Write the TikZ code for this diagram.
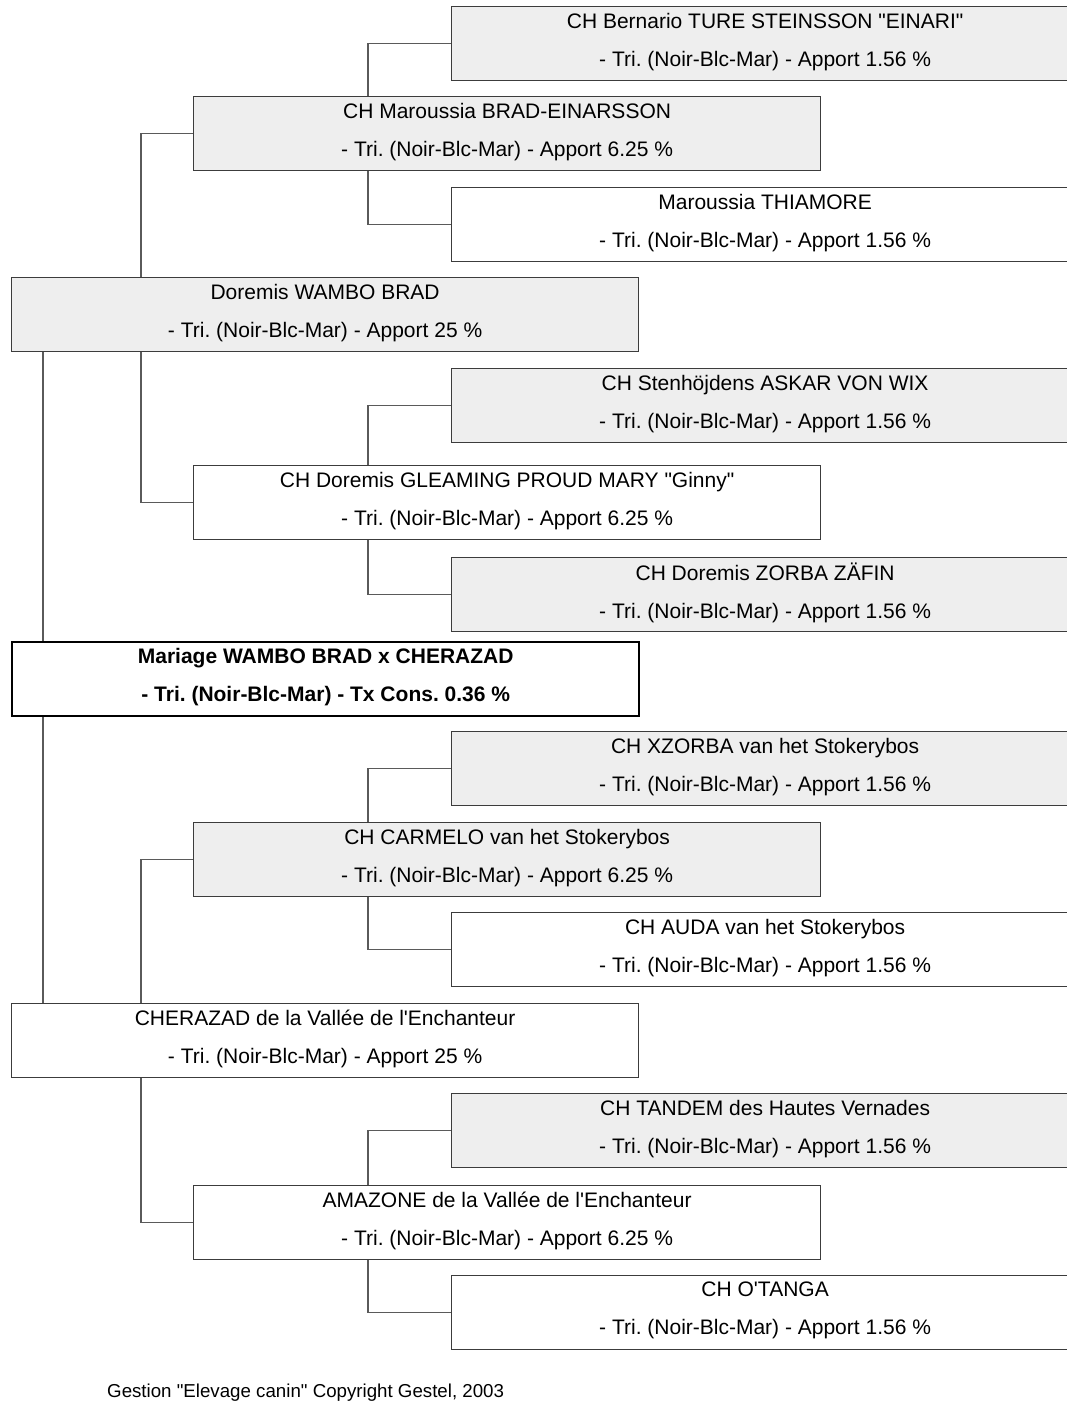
\documentclass[tikz,border=0pt]{standalone}
\usepackage{fontspec}
\setmainfont{Liberation Sans}[Ligatures=TeXOff]
\frenchspacing

\tikzset{
    ped/.style={draw={rgb, 255:red, 60; green, 60; blue, 60 }, line width=1.2pt, anchor=north west, minimum width=627, minimum height=74, inner sep=0pt, align=center, font=\fontsize{21}{38}\selectfont, execute at begin node={\rule{0pt}{18pt}}, execute at end node={\rule[-8pt]{0pt}{8pt}}},
    male/.style={ped, fill={rgb, 255:red, 238; green, 238; blue, 238 }},
    female/.style={ped, fill=white},
    link/.style={draw={rgb, 255:red, 90; green, 90; blue, 90 }, line width=1.2pt},
}

\begin{document}
\begin{tikzpicture}[x=1pt,y=1pt,yscale=-1,xscale=1]
    \useasboundingbox (0,0) rectangle (1067,1402);

    % Boxes: sire side
    \node [male] (bern) at (451,6) {CH Bernario TURE STEINSSON "EINARI"\\- Tri. (Noir-Blc-Mar) - Apport 1.56 \%};
    \node [male] (brad) at (193,96) {CH Maroussia BRAD-EINARSSON\\- Tri. (Noir-Blc-Mar) - Apport 6.25 \%};
    \node [female] (thiam) at (451,187) {Maroussia THIAMORE\\- Tri. (Noir-Blc-Mar) - Apport 1.56 \%};
    \node [male] (dor) at (11,277) {Doremis WAMBO BRAD\\- Tri. (Noir-Blc-Mar) - Apport 25 \%};
    \node [male] (stenh) at (451,368) {CH Stenhöjdens ASKAR VON WIX\\- Tri. (Noir-Blc-Mar) - Apport 1.56 \%};
    \node [female] (gleam) at (193,465) {CH Doremis GLEAMING PROUD MARY "Ginny"\\- Tri. (Noir-Blc-Mar) - Apport 6.25 \%};
    \node [male] (zorba) at (451,557) {CH Doremis ZORBA ZÄFIN\\- Tri. (Noir-Blc-Mar) - Apport 1.56 \%};

    % Box: the mating
    \node [female, draw=black, line width=2.4pt, font=\fontsize{21}{38}\selectfont\bfseries] (root) at (11,641) {Mariage WAMBO BRAD x CHERAZAD\\- Tri. (Noir-Blc-Mar) - Tx Cons. 0.36 \%};

    % Boxes: dam side
    \node [male] (xzorba) at (451,731) {CH XZORBA van het Stokerybos\\- Tri. (Noir-Blc-Mar) - Apport 1.56 \%};
    \node [male] (carm) at (193,822) {CH CARMELO van het Stokerybos\\- Tri. (Noir-Blc-Mar) - Apport 6.25 \%};
    \node [female] (auda) at (451,912) {CH AUDA van het Stokerybos\\- Tri. (Noir-Blc-Mar) - Apport 1.56 \%};
    \node [female] (cher) at (11,1003) {CHERAZAD de la Vallée de l'Enchanteur\\- Tri. (Noir-Blc-Mar) - Apport 25 \%};
    \node [male] (tandem) at (451,1093) {CH TANDEM des Hautes Vernades\\- Tri. (Noir-Blc-Mar) - Apport 1.56 \%};
    \node [female] (amaz) at (193,1185) {AMAZONE de la Vallée de l'Enchanteur\\- Tri. (Noir-Blc-Mar) - Apport 6.25 \%};
    \node [female] (otanga) at (451,1275) {CH O'TANGA\\- Tri. (Noir-Blc-Mar) - Apport 1.56 \%};

    % Links
    \draw [link] ([xshift=32]root.north west) -- ([xshift=32]root.north west |- dor.south);
    \draw [link] ([xshift=32]root.south west) -- ([xshift=32]root.south west |- cher.north);
    \draw [link] ([xshift=130]dor.north west) |- (brad.west);
    \draw [link] ([xshift=130]dor.south west) |- (gleam.west);
    \draw [link] ([xshift=130]cher.north west) |- (carm.west);
    \draw [link] ([xshift=130]cher.south west) |- (amaz.west);
    \draw [link] ([xshift=175]brad.north west) |- (bern.west);
    \draw [link] ([xshift=175]brad.south west) |- (thiam.west);
    \draw [link] ([xshift=175]gleam.north west) |- (stenh.west);
    \draw [link] ([xshift=175]gleam.south west) |- (zorba.west);
    \draw [link] ([xshift=175]carm.north west) |- (xzorba.west);
    \draw [link] ([xshift=175]carm.south west) |- (auda.west);
    \draw [link] ([xshift=175]amaz.north west) |- (tandem.west);
    \draw [link] ([xshift=175]amaz.south west) |- (otanga.west);

    % Text Node
    \node [anchor=base west, inner sep=0pt, font=\fontsize{18.7}{22}\selectfont] (foot) at (107,1397) {Gestion "Elevage canin" Copyright Gestel, 2003};
\end{tikzpicture}
\end{document}
